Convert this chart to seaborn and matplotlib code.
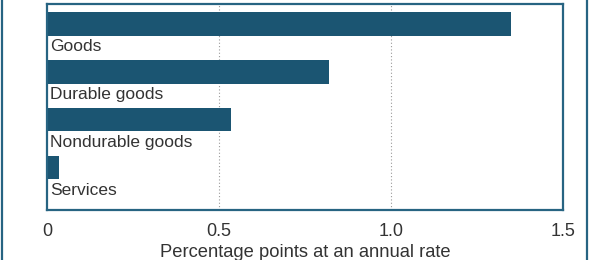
import matplotlib
matplotlib.use("Agg")
import matplotlib.pyplot as plt
import seaborn as sns
from matplotlib.lines import Line2D

categories = ["Goods", "Durable goods", "Nondurable goods", "Services"]
values = [1.35, 0.82, 0.535, 0.035]
xticks = [0, 0.5, 1.0, 1.5]
xtick_labels = ["0", "0.5", "1.0", "1.5"]
xlabel = "Percentage points at an annual rate"

BAR = "#1b5572"
FRAME = "#276482"
TEXT = "#333333"

sns.set_theme(style="white")
plt.rcParams["font.family"] = ["Liberation Sans", "DejaVu Sans"]

fig = plt.figure(figsize=(5.95, 2.6), dpi=100)
ax = fig.add_axes([47 / 595, 50 / 260, 516 / 595, 206 / 260])

sns.barplot(x=values, y=categories, orient="h", color=BAR, width=0.49,
            saturation=1, linewidth=0, ax=ax)

for i, cat in enumerate(categories):
    ax.text(0.008, i + 0.48, cat, va="center", ha="left", fontsize=12.5,
            color=TEXT)

ax.set_xlim(0, 1.5)
ax.set_ylim(3.885, -0.417)
ax.set_xticks(xticks)
ax.set_xticklabels(xtick_labels, fontsize=13, color=TEXT)
ax.set_yticks([])
ax.set_ylabel("")
ax.set_xlabel(xlabel, fontsize=13.2, color=TEXT, labelpad=3)
ax.tick_params(axis="x", length=0, pad=9)
for x in [0.5, 1.0]:
    ax.axvline(x, color="#999999", linestyle=(0, (1, 2)), linewidth=0.8,
               zorder=0)
for s in ax.spines.values():
    s.set_color(FRAME)
    s.set_linewidth(1.6)

for xf in [2 / 595, 587 / 595]:
    fig.add_artist(Line2D([xf, xf], [0, 1], transform=fig.transFigure,
                          color=FRAME, linewidth=1.6))

fig.savefig("out.png", dpi=100)
